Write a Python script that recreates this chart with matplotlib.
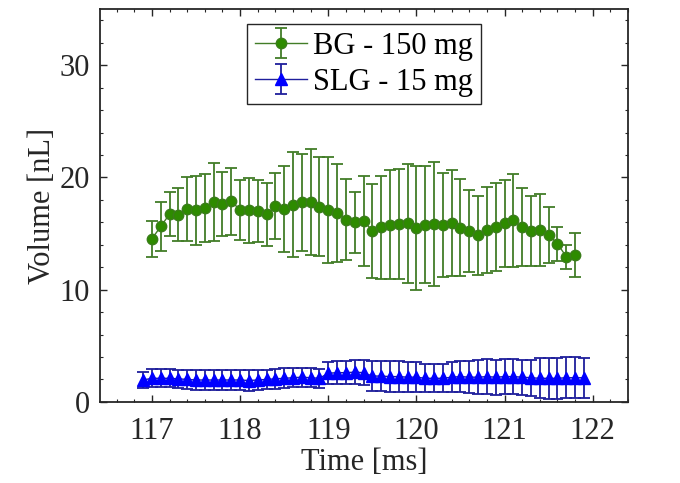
import numpy as np
import matplotlib
matplotlib.use('Agg')
import matplotlib.pyplot as plt
from matplotlib.ticker import MultipleLocator

# BG - 150 mg, one point every 0.1 ms from 117.0 to 121.8
bg_time = np.round(np.arange(117.0, 121.85, 0.1), 1)
bg_mean = [14.54, 15.64, 16.74, 16.68, 17.18, 17.06, 17.27, 17.84, 17.63, 17.86,
           17.12, 17.06, 17.03, 16.71, 17.45, 17.15, 17.56, 17.77, 17.81, 17.39,
           17.12, 16.83, 16.24, 16.00, 16.15, 15.25, 15.55, 15.79, 15.85, 15.91,
           15.49, 15.79, 15.85, 15.76, 15.94, 15.52, 15.19, 14.84, 15.34, 15.61,
           15.91, 16.17, 15.55, 15.22, 15.34, 14.90, 14.10, 12.94, 13.06]
bg_sd = [1.59, 2.20, 2.00, 2.35, 2.82, 3.05, 3.03, 3.47, 2.89, 3.01,
         2.65, 2.90, 2.77, 2.78, 2.93, 3.83, 4.69, 4.31, 4.75, 4.42,
         4.70, 4.40, 3.62, 2.72, 4.00, 4.19, 4.57, 4.84, 4.89, 5.30,
         5.54, 5.24, 5.55, 4.63, 4.75, 4.32, 3.66, 3.49, 3.83, 3.94,
         3.89, 4.16, 3.47, 3.09, 3.19, 2.48, 1.52, 1.06, 1.96]

# SLG - 15 mg, one point every 0.1 ms from 116.9 to 121.9
slg_time = np.round(np.arange(116.9, 121.95, 0.1), 1)
slg_mean = [1.95, 2.10, 2.10, 2.10, 2.05, 2.00, 1.95, 1.95, 1.95, 1.95,
            1.95, 1.95, 1.90, 1.95, 2.00, 2.05, 2.10, 2.15, 2.20, 2.15,
            2.10, 2.55, 2.60, 2.60, 2.65, 2.60, 2.30, 2.30, 2.25, 2.25,
            2.20, 2.20, 2.10, 2.10, 2.10, 2.20, 2.25, 2.20, 2.20, 2.25,
            2.20, 2.25, 2.25, 2.20, 2.15, 2.10, 2.10, 2.10, 2.15, 2.15,
            2.15]
slg_sd = [0.75, 0.80, 0.80, 0.82, 0.82, 0.85, 0.88, 0.90, 0.92, 0.90,
          0.90, 0.90, 0.92, 0.90, 0.88, 0.88, 0.88, 0.85, 0.85, 0.85,
          0.85, 1.00, 1.05, 1.05, 1.10, 1.10, 1.30, 1.35, 1.35, 1.35,
          1.35, 1.35, 1.25, 1.25, 1.25, 1.35, 1.40, 1.45, 1.50, 1.55,
          1.55, 1.55, 1.55, 1.55, 1.60, 1.80, 1.85, 1.85, 1.85, 1.85,
          1.80]

plt.rcParams['font.family'] = ['Liberation Serif', 'DejaVu Serif']

fig = plt.figure(figsize=(6.8, 4.83), dpi=100)
ax = fig.add_axes([0.147, 0.168, 0.7765, 0.813])

ax.errorbar(bg_time, bg_mean, yerr=bg_sd, fmt='-o', color='#427d27',
            mfc='#2e8b00', mec='#3a7d1a', ms=7.5, lw=1.0, elinewidth=1.3,
            capsize=4, capthick=1.3, label='BG - 150 mg')
ax.errorbar(slg_time, slg_mean, yerr=slg_sd, fmt='-^', color='#1f1f9c',
            mfc='#0000ff', mec='#0000ff', ms=8, lw=1.0, elinewidth=1.3,
            capsize=4, capthick=1.3, label='SLG - 15 mg')

ax.set_xlim(116.41, 122.4)
ax.set_ylim(0, 35)
ax.set_xticks([117, 118, 119, 120, 121, 122])
ax.set_yticks([0, 10, 20, 30])
ax.xaxis.set_minor_locator(MultipleLocator(0.2))
ax.yaxis.set_minor_locator(MultipleLocator(2))
ax.tick_params(which='both', direction='in', top=True, right=True,
               colors='#262626', labelcolor='#262626', labelsize=22)
ax.tick_params(which='major', length=5, width=1.0)
ax.tick_params(which='minor', length=2.5, width=0.8)
ax.tick_params(axis='x', which='both', pad=11)
ax.tick_params(axis='y', which='both', pad=7)
for s in ax.spines.values():
    s.set_linewidth(1.3)
    s.set_color('#262626')

ax.set_xlabel('Time [ms]', fontsize=22, color='#262626', labelpad=1)
ax.set_ylabel('Volume [nL]', fontsize=22, color='#262626', labelpad=2)

leg = ax.legend(loc='upper center', bbox_to_anchor=(0.5, 0.985), fontsize=22,
                handlelength=1.7, handletextpad=0.2, borderpad=0.25,
                labelspacing=0.22, borderaxespad=0.3, fancybox=False,
                framealpha=1, edgecolor='#262626')
leg.get_frame().set_linewidth(1.0)

fig.savefig('out.png', dpi=100, facecolor='white')
